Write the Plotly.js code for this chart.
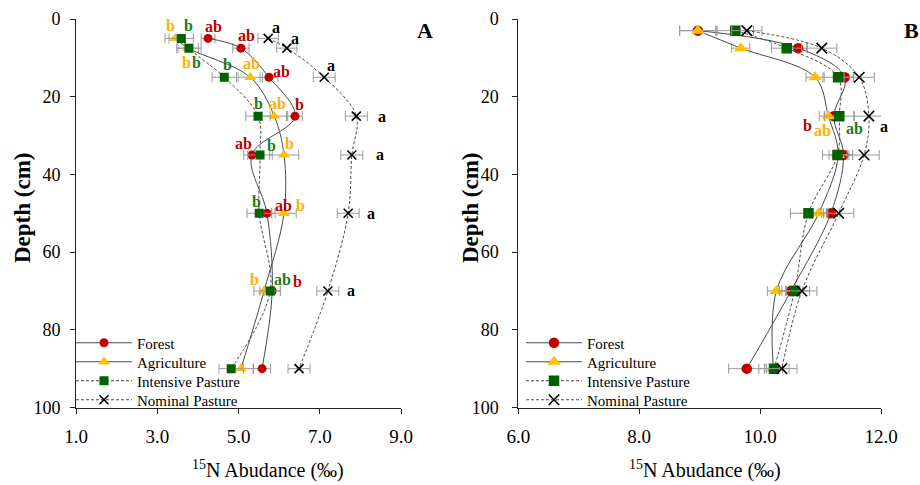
<!DOCTYPE html>
<html>
<head>
<meta charset="utf-8">
<script src="https://cdn.plot.ly/plotly-3.0.1.min.js"></script>
<style>html,body{margin:0;padding:0;background:#fff}#chart{width:920px;height:485px}</style>
</head>
<body>
<div id="chart"></div>
<script>
// ---------- data ----------
const seriesNames = ['Forest', 'Agriculture', 'Intensive Pasture', 'Nominal Pasture'];
const depthsA = [5, 7.5, 15, 25, 35, 50, 70, 90];
const depthsB = [3, 7.5, 15, 25, 35, 50, 70, 90];

const forestA   = [4.25, 5.06, 5.75, 6.39, 5.33, 5.70, 5.83, 5.58];
const agriA     = [3.44, 3.76, 5.29, 5.88, 6.12, 6.12, 5.63, 5.06];
const intPastA  = [3.59, 3.78, 4.65, 5.48, 5.53, 5.51, 5.78, 4.82];
const nomPastA  = [5.73, 6.19, 7.11, 7.90, 7.79, 7.70, 7.20, 6.49];

const forestErrA  = [0.17, 0.20, 0.22, 0.18, 0.20, 0.20, 0.20, 0.21];
const agriErrA    = [0.25, 0.25, 0.30, 0.30, 0.36, 0.30, 0.25, 0.30];
const intPastErrA = [0.30, 0.30, 0.30, 0.30, 0.30, 0.30, 0.25, 0.30];
const nomPastErrA = [0.25, 0.25, 0.27, 0.27, 0.27, 0.27, 0.27, 0.27];

const forestB   = [8.97, 10.63, 11.40, 11.22, 11.38, 11.17, 10.51, 9.78];
const agriB     = [8.97, 9.68, 10.91, 11.13, 11.29, 10.97, 10.27, 10.22];
const intPastB  = [9.59, 10.44, 11.29, 11.31, 11.28, 10.80, 10.57, 10.23];
const nomPastB  = [9.78, 11.02, 11.64, 11.80, 11.72, 11.30, 10.69, 10.36];

const forestErrB  = [0.30, 0.15, 0.15, 0.15, 0.15, 0.15, 0.15, 0.30];
const agriErrB    = [0.30, 0.15, 0.15, 0.15, 0.15, 0.15, 0.15, 0.15];
const intPastErrB = [0.30, 0.25, 0.25, 0.25, 0.25, 0.30, 0.25, 0.25];
const nomPastErrB = [0.25, 0.25, 0.25, 0.25, 0.25, 0.25, 0.25, 0.25];

const xTicksA = [1, 3, 5, 7, 9];
const xTicksB = [6, 8, 10, 12];
const yTicks = [0, 20, 40, 60, 80, 100];

// significance letters: [series index, depth index, text]
const lettersA = [
  [1,0,'b'],[2,0,'b'],[0,0,'ab'],[3,0,'a'],
  [0,1,'ab'],[3,1,'a'],[1,1,'b'],[2,1,'b'],
  [2,2,'b'],[1,2,'ab'],[0,2,'ab'],[3,2,'a'],
  [2,3,'b'],[1,3,'ab'],[0,3,'b'],[3,3,'a'],
  [0,4,'ab'],[2,4,'b'],[1,4,'b'],[3,4,'a'],
  [2,5,'b'],[0,5,'ab'],[1,5,'b'],[3,5,'a'],
  [1,6,'b'],[2,6,'ab'],[0,6,'b'],[3,6,'a']
];
const lettersB = [
  [0,3,'b'],[1,3,'ab'],[2,3,'ab'],[3,3,'a']
];

// ---------- styling (pixel offsets for letters) ----------
const offsA = [
  [-5,-13],[7,-13],[5,-12],[8,-11],
  [6,-13],[8,-10],[-2,14],[8,14],
  [3,-13],[1,-14],[13,-6],[7,-12],
  [0,-13],[3,-13],[5,-12],[26,0],
  [-8,-11],[11,-9],[5,-11],[28,0],
  [-3,-12],[17,-8],[16,-8],[23,0],
  [-10,-11],[12,-11],[25,-9],[23,0]
];
const offsB = [[-26,9],[-6,14],[15,12],[15,10]];

const markerColors = ['#C00000', '#FFC000', '#006100', '#000000'];
const letterColors = ['#C00000', '#FFB000', '#1E7B1E', '#000000'];
const symbols = ['circle', 'triangle-up', 'square', 'x-thin-open'];
const dashes = ['solid', 'solid', '3px,2px', '3px,2px'];
const FONT = '"Liberation Serif", "Times New Roman", Times, serif';

const dataA = [forestA, agriA, intPastA, nomPastA];
const errA = [forestErrA, agriErrA, intPastErrA, nomPastErrA];
const dataB = [forestB, agriB, intPastB, nomPastB];
const errB = [forestErrB, agriErrB, intPastErrB, nomPastErrB];

function legName(n) { return n === 1 ? 'legend' : 'legend' + n; }

function makeTrace(i, xs, errs, depths, xa, ya, leg, msize) {
  const isX = symbols[i] === 'x-thin-open';
  return {
    type: 'scatter', mode: 'lines+markers',
    name: seriesNames[i], x: xs, y: depths, xaxis: xa, yaxis: ya,
    legend: leg, showlegend: true,
    line: {color: '#4a4a4a', width: 1, dash: dashes[i], shape: 'spline', smoothing: 1},
    marker: {
      symbol: symbols[i],
      size: symbols[i] === 'triangle-up' ? msize + 1.5 : msize,
      color: markerColors[i],
      line: {color: isX ? '#000' : markerColors[i], width: isX ? 1.6 : 0}
    },
    error_x: {type: 'data', array: errs, visible: true, color: '#9a9a9a', thickness: 1, width: 5}
  };
}

const traces = [];
for (let i = 0; i < 4; i++) traces.push(makeTrace(i, dataA[i], errA[i], depthsA, 'x', 'y', legName(i + 1), 9));
for (let i = 0; i < 4; i++) traces.push(makeTrace(i, dataB[i], errB[i], depthsB, 'x2', 'y2', legName(i + 5), 10.5));

const annotations = [];
lettersA.forEach((l, k) => {
  annotations.push({
    xref: 'x', yref: 'y', x: dataA[l[0]][l[1]], y: depthsA[l[1]], text: '<b>' + l[2] + '</b>',
    showarrow: false, xshift: offsA[k][0], yshift: -offsA[k][1], xanchor: 'center', yanchor: 'middle',
    font: {family: FONT, size: 16, color: letterColors[l[0]]}
  });
});
lettersB.forEach((l, k) => {
  annotations.push({
    xref: 'x2', yref: 'y2', x: dataB[l[0]][l[1]], y: depthsB[l[1]], text: '<b>' + l[2] + '</b>',
    showarrow: false, xshift: offsB[k][0], yshift: -offsB[k][1], xanchor: 'center', yanchor: 'middle',
    font: {family: FONT, size: 16, color: letterColors[l[0]]}
  });
});
function paperNote(px, py, text, size, extra) {
  return Object.assign({xref: 'paper', yref: 'paper', x: px/920, y: 1 - py/485, text: text,
    showarrow: false, xanchor: 'center', yanchor: 'middle',
    font: {family: FONT, size: size, color: '#000'}}, extra || {});
}
annotations.push(
  paperNote(425, 30, '<b>A</b>', 22),
  paperNote(911, 30, '<b>B</b>', 22),
  paperNote(22, 208, '<b>Depth (cm)</b>', 23, {textangle: -90}),
  paperNote(470, 208, '<b>Depth (cm)</b>', 23, {textangle: -90}),
  paperNote(268, 469, '<sup>15</sup>N Abudance (‰)', 20),
  paperNote(705, 469, '<sup>15</sup>N Abudance (‰)', 20)
);

const axisCommon = {
  showgrid: false, zeroline: false, showline: true, linecolor: '#222', linewidth: 1,
  ticks: 'outside', ticklen: 5, tickcolor: '#222', tickwidth: 1,
  tickfont: {family: FONT, size: 18, color: '#000'}, fixedrange: true
};
const yTop = 1 - 19/485, yBot = 1 - 407.5/485;

const layout = {
  width: 920, height: 485,
  margin: {l: 0, r: 0, t: 0, b: 0},
  paper_bgcolor: '#fff', plot_bgcolor: '#fff',
  font: {family: FONT},
  xaxis: Object.assign({}, axisCommon, {domain: [76/920, 401/920], range: [1, 9], tickvals: xTicksA,
    tickformat: '.1f', anchor: 'y', ticklabelstandoff: 7, tickfont: {family: FONT, size: 19, color: '#000'}}),
  yaxis: Object.assign({}, axisCommon, {domain: [yBot, yTop], range: [100, 0], tickvals: yTicks,
    anchor: 'x', ticklabelstandoff: 6}),
  xaxis2: Object.assign({}, axisCommon, {domain: [518.3/920, 881/920], range: [6, 12], tickvals: xTicksB,
    tickformat: '.1f', anchor: 'y2', ticklabelstandoff: 7, tickfont: {family: FONT, size: 19, color: '#000'}}),
  yaxis2: Object.assign({}, axisCommon, {domain: [yBot, yTop], range: [100, 0], tickvals: yTicks,
    anchor: 'x2', ticklabelstandoff: 10}),
  annotations: annotations,
  showlegend: true
};
// one legend per entry so rows sit where the reference puts them
const legendRowTops = [326.5, 345.5, 364.5, 383.5];
const legendLeft = [71, 521];
for (let p = 0; p < 2; p++) {
  for (let i = 0; i < 4; i++) {
    layout[legName(p * 4 + i + 1)] = {
      x: legendLeft[p]/920, y: 1 - legendRowTops[i]/485, xanchor: 'left', yanchor: 'top',
      bgcolor: 'rgba(0,0,0,0)', borderwidth: 0,
      font: {family: FONT, size: 15, color: '#000'}, itemwidth: 56
    };
  }
}

Plotly.newPlot('chart', traces, layout, {displayModeBar: false, staticPlot: true});
</script>
</body>
</html>
